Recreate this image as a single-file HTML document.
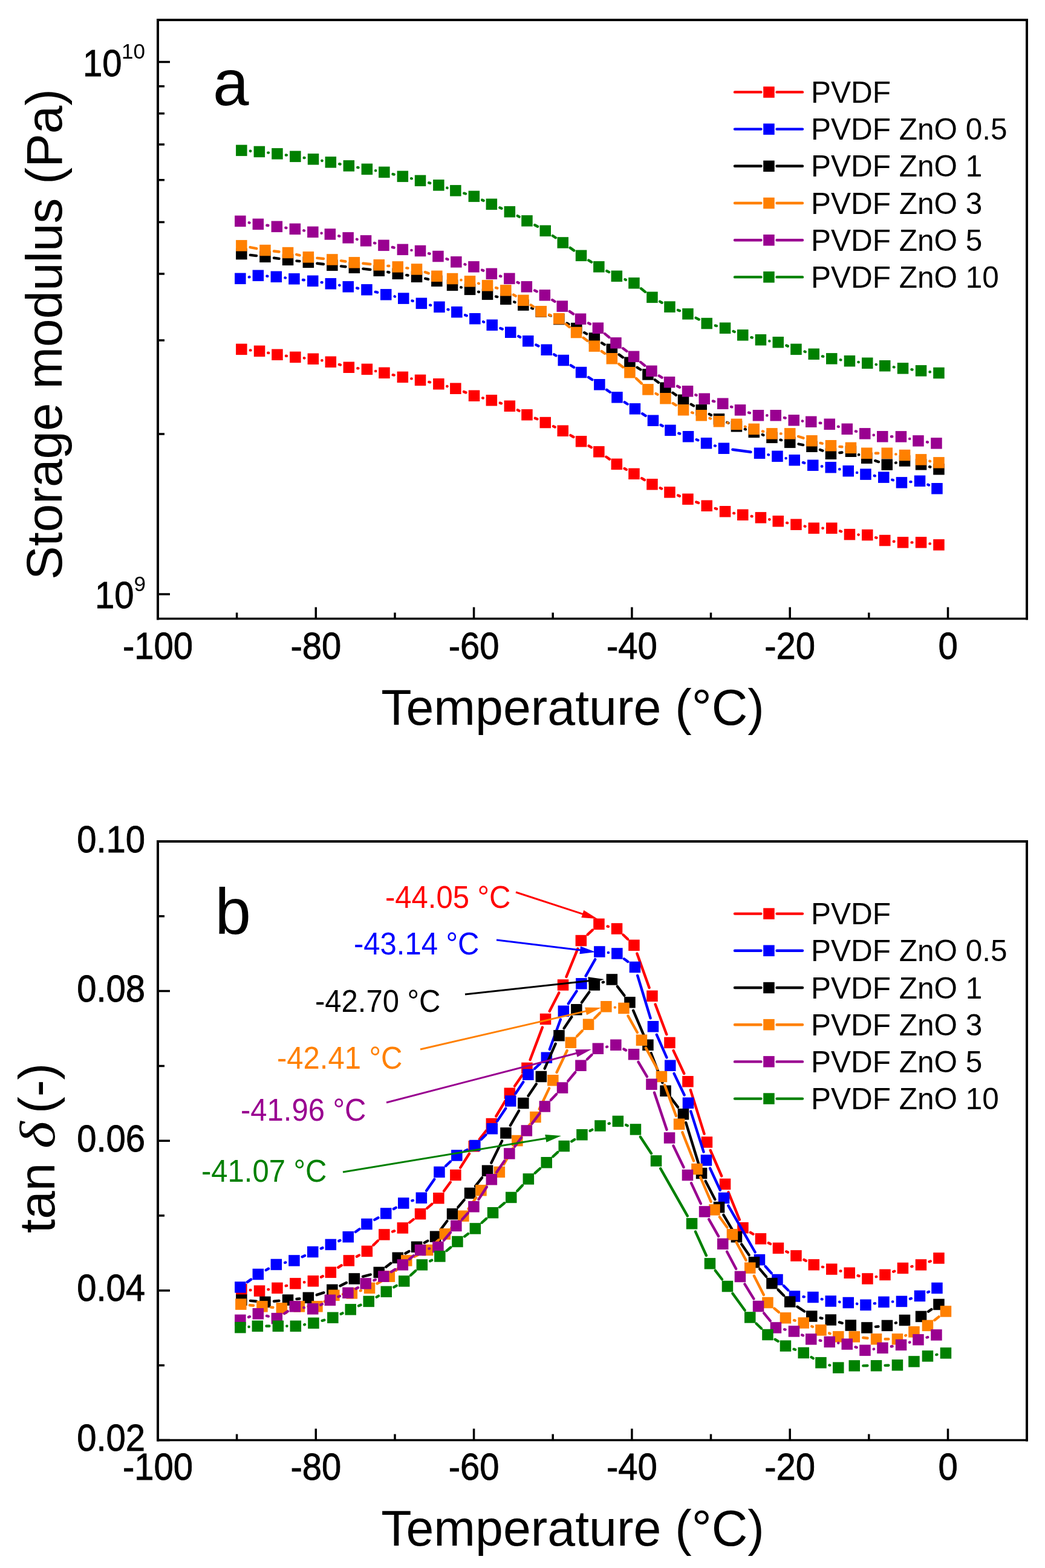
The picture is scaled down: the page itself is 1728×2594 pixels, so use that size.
<!DOCTYPE html>
<html><head><meta charset="utf-8"><title>DMA</title><style>
html,body{margin:0;padding:0;background:#fff;}
svg{display:block;}
text{font-family:"Liberation Sans",Arial,sans-serif;fill:#000;}
.tk{font-size:58px;stroke:#000;stroke-width:0.8px;}
.sup{font-size:35px;}
.ax{font-size:82.5px;}
.ax2{font-size:83.5px;}
.lg{font-size:49.5px;}
.pl{font-size:107px;}
.an{font-size:49px;}
.dl{font-family:"Liberation Serif",serif;font-style:italic;}
</style></head>
<body><svg width="1728" height="2594" viewBox="0 0 1728 2594">
<rect width="1728" height="2594" fill="#fff"/>
<path d="M261.0 983.0H281.0M261.0 717.9H272.0M261.0 562.9H272.0M261.0 452.9H272.0M261.0 367.6H272.0M261.0 297.8H272.0M261.0 238.9H272.0M261.0 187.8H272.0M261.0 142.8H272.0M261.0 102.5H281.0" stroke="#000" stroke-width="3.5"/>
<path d="M261.0 1023.5V1004.5M391.6 1023.5V1013.5M522.3 1023.5V1004.5M653.0 1023.5V1013.5M783.6 1023.5V1004.5M914.2 1023.5V1013.5M1044.9 1023.5V1004.5M1175.5 1023.5V1013.5M1306.2 1023.5V1004.5M1436.8 1023.5V1013.5M1567.5 1023.5V1004.5M1698.1 1023.5V1013.5" stroke="#000" stroke-width="3.5"/><text transform="translate(261.0 1090.0) scale(1 1.08)" class="tk" text-anchor="middle">-100</text><text transform="translate(522.3 1090.0) scale(1 1.08)" class="tk" text-anchor="middle">-80</text><text transform="translate(783.6 1090.0) scale(1 1.08)" class="tk" text-anchor="middle">-60</text><text transform="translate(1044.9 1090.0) scale(1 1.08)" class="tk" text-anchor="middle">-40</text><text transform="translate(1306.2 1090.0) scale(1 1.08)" class="tk" text-anchor="middle">-20</text><text transform="translate(1567.5 1090.0) scale(1 1.08)" class="tk" text-anchor="middle">0</text>
<text transform="translate(201.5 126.3) scale(1 1.08)" class="tk" text-anchor="end">10</text><text x="240" y="96.8" class="sup" text-anchor="end">10</text>
<text transform="translate(221.5 1006.3) scale(1 1.08)" class="tk" text-anchor="end">10</text><text x="241" y="977.8" class="sup" text-anchor="end">9</text>
<text x="947" y="1199" class="ax" text-anchor="middle">Temperature (°C)</text>
<text transform="translate(102 553) rotate(-90)" class="ax2" text-anchor="middle">Storage modulus (Pa)</text>
<text x="352" y="173.5" class="pl">a</text>
<path d="M413.8 579.4L414.5 579.4M443.3 583.8L444.2 583.9M473.0 588.8L473.9 588.9M502.9 592.3L503.4 592.4M532.3 596.3L532.5 596.3M560.9 603.0L562.9 603.6M591.4 609.3L592.4 609.4M621.1 613.9L621.3 613.9M649.7 620.2L651.7 620.6M680.3 626.4L680.6 626.4M709.3 631.9L711.1 632.3M739.3 639.0L739.5 639.1M767.0 648.1L770.4 649.4M798.1 658.4L798.8 658.5M826.8 666.6L829.0 667.3M855.9 678.3L858.5 679.6M884.9 691.9L888.4 693.3M915.0 705.3L917.6 706.5M943.4 720.1L948.4 723.0M973.6 737.6L977.8 740.1M1002.4 755.7L1007.9 759.6M1032.6 775.0L1035.8 776.8M1061.1 791.2L1065.8 794.0M1091.7 807.3L1094.1 808.4M1121.1 819.5L1123.8 820.6M1151.3 830.6L1155.0 831.9M1182.7 841.1L1185.1 841.9M1213.3 848.9L1214.0 849.1M1242.7 854.0L1243.5 854.2M1272.2 859.3L1272.5 859.4M1301.2 864.9L1302.0 865.1M1330.7 870.6L1331.5 870.8M1360.4 873.7L1360.7 873.7M1389.1 878.5L1391.1 879.3M1419.5 884.5L1419.6 884.6M1448.1 889.3L1449.4 889.7M1477.8 895.7L1478.5 895.7M1507.6 897.4L1508.4 897.4M1537.5 899.4L1537.9 899.4" stroke="#ff0000" stroke-width="4.4" stroke-linecap="round" fill="none"/><g fill="#ff0000"><rect x="390.1" y="568.6" width="18.5" height="18.5"/><rect x="419.8" y="571.6" width="18.5" height="18.5"/><rect x="449.2" y="577.5" width="18.5" height="18.5"/><rect x="479.1" y="581.6" width="18.5" height="18.5"/><rect x="508.6" y="584.5" width="18.5" height="18.5"/><rect x="537.6" y="589.5" width="18.5" height="18.5"/><rect x="567.6" y="598.5" width="18.5" height="18.5"/><rect x="597.6" y="601.6" width="18.5" height="18.5"/><rect x="626.2" y="607.6" width="18.5" height="18.5"/><rect x="656.6" y="614.6" width="18.5" height="18.5"/><rect x="685.8" y="619.6" width="18.5" height="18.5"/><rect x="716.1" y="626.0" width="18.5" height="18.5"/><rect x="744.1" y="633.5" width="18.5" height="18.5"/><rect x="774.8" y="645.5" width="18.5" height="18.5"/><rect x="803.6" y="653.0" width="18.5" height="18.5"/><rect x="833.6" y="662.5" width="18.5" height="18.5"/><rect x="862.2" y="677.0" width="18.5" height="18.5"/><rect x="892.5" y="689.8" width="18.5" height="18.5"/><rect x="921.5" y="703.5" width="18.5" height="18.5"/><rect x="951.8" y="721.0" width="18.5" height="18.5"/><rect x="981.1" y="738.1" width="18.5" height="18.5"/><rect x="1010.6" y="758.6" width="18.5" height="18.5"/><rect x="1039.2" y="774.6" width="18.5" height="18.5"/><rect x="1069.2" y="792.0" width="18.5" height="18.5"/><rect x="1098.2" y="805.1" width="18.5" height="18.5"/><rect x="1128.2" y="816.5" width="18.5" height="18.5"/><rect x="1159.5" y="827.5" width="18.5" height="18.5"/><rect x="1189.8" y="837.0" width="18.5" height="18.5"/><rect x="1219.0" y="842.5" width="18.5" height="18.5"/><rect x="1248.7" y="847.1" width="18.5" height="18.5"/><rect x="1277.5" y="853.0" width="18.5" height="18.5"/><rect x="1307.2" y="858.5" width="18.5" height="18.5"/><rect x="1336.5" y="864.5" width="18.5" height="18.5"/><rect x="1366.0" y="864.5" width="18.5" height="18.5"/><rect x="1395.7" y="874.9" width="18.5" height="18.5"/><rect x="1425.0" y="875.8" width="18.5" height="18.5"/><rect x="1454.0" y="884.8" width="18.5" height="18.5"/><rect x="1483.8" y="888.1" width="18.5" height="18.5"/><rect x="1513.8" y="888.1" width="18.5" height="18.5"/><rect x="1543.2" y="892.1" width="18.5" height="18.5"/></g>
<path d="M411.8 458.4L412.5 458.3M441.5 456.8L442.3 456.9M471.4 459.5L472.0 459.6M501.0 463.0L502.8 463.2M531.7 467.1L532.5 467.2M561.3 471.8L561.4 471.9M590.2 476.6L592.1 477.0M620.7 482.9L624.1 483.7M652.6 490.4L653.0 490.6M681.4 497.6L682.8 497.9M711.2 504.7L712.2 504.9M740.5 511.9L741.4 512.2M769.1 521.3L771.7 522.3M799.1 532.3L800.1 532.7M827.4 543.0L830.7 544.4M857.3 556.2L860.2 557.7M886.4 570.5L890.5 572.4M916.1 586.4L919.4 588.3M943.8 604.3L949.0 607.7M973.1 624.1L979.3 628.2M1003.2 644.9L1008.7 648.8M1032.8 665.3L1037.6 668.5M1062.2 684.3L1067.6 687.9M1092.6 703.0L1095.8 704.7M1122.3 716.8L1124.2 717.4M1151.7 727.3L1154.3 728.3M1182.0 737.4L1182.9 737.6M1211.4 743.7L1241.5 747.8M1270.4 752.3L1271.0 752.4M1299.5 758.1L1299.7 758.1M1327.9 765.2L1330.2 765.9M1358.8 771.5L1359.3 771.5M1388.1 776.2L1388.5 776.2M1417.0 781.9L1417.2 781.9M1445.8 787.0L1446.8 787.2M1475.2 793.7L1476.9 794.3M1505.4 797.1L1506.5 797.1M1534.4 801.7L1536.0 802.4" stroke="#0000ff" stroke-width="4.4" stroke-linecap="round" fill="none"/><g fill="#0000ff"><rect x="388.1" y="451.6" width="18.5" height="18.5"/><rect x="417.6" y="446.6" width="18.5" height="18.5"/><rect x="447.6" y="448.6" width="18.5" height="18.5"/><rect x="477.2" y="452.1" width="18.5" height="18.5"/><rect x="508.0" y="455.6" width="18.5" height="18.5"/><rect x="537.6" y="460.1" width="18.5" height="18.5"/><rect x="566.5" y="465.1" width="18.5" height="18.5"/><rect x="597.2" y="470.1" width="18.5" height="18.5"/><rect x="629.0" y="478.1" width="18.5" height="18.5"/><rect x="658.0" y="484.4" width="18.5" height="18.5"/><rect x="687.6" y="492.6" width="18.5" height="18.5"/><rect x="717.2" y="498.6" width="18.5" height="18.5"/><rect x="746.1" y="507.0" width="18.5" height="18.5"/><rect x="776.1" y="518.0" width="18.5" height="18.5"/><rect x="804.5" y="528.5" width="18.5" height="18.5"/><rect x="835.0" y="540.5" width="18.5" height="18.5"/><rect x="864.0" y="555.0" width="18.5" height="18.5"/><rect x="894.5" y="569.5" width="18.5" height="18.5"/><rect x="922.5" y="586.8" width="18.5" height="18.5"/><rect x="951.8" y="606.8" width="18.5" height="18.5"/><rect x="982.1" y="627.0" width="18.5" height="18.5"/><rect x="1011.2" y="648.1" width="18.5" height="18.5"/><rect x="1040.7" y="667.1" width="18.5" height="18.5"/><rect x="1070.7" y="686.5" width="18.5" height="18.5"/><rect x="1099.2" y="702.6" width="18.5" height="18.5"/><rect x="1128.8" y="713.0" width="18.5" height="18.5"/><rect x="1158.8" y="724.0" width="18.5" height="18.5"/><rect x="1187.7" y="732.5" width="18.5" height="18.5"/><rect x="1246.8" y="740.5" width="18.5" height="18.5"/><rect x="1276.2" y="745.6" width="18.5" height="18.5"/><rect x="1304.5" y="752.0" width="18.5" height="18.5"/><rect x="1335.0" y="760.5" width="18.5" height="18.5"/><rect x="1364.5" y="764.0" width="18.5" height="18.5"/><rect x="1393.5" y="770.0" width="18.5" height="18.5"/><rect x="1422.2" y="775.4" width="18.5" height="18.5"/><rect x="1452.0" y="780.4" width="18.5" height="18.5"/><rect x="1481.7" y="789.1" width="18.5" height="18.5"/><rect x="1511.8" y="786.5" width="18.5" height="18.5"/><rect x="1540.2" y="799.0" width="18.5" height="18.5"/></g>
<path d="M413.8 421.9L424.0 423.1M453.0 426.8L461.5 427.9M490.5 431.6L495.4 432.1M524.4 435.7L534.9 437.0M563.9 440.4L571.4 441.2M600.4 444.6L612.3 446.0M641.2 450.1L643.4 450.5M672.2 455.1L674.6 455.5M703.3 460.8L708.1 461.9M762.2 475.3L762.8 475.4M791.1 482.8L791.9 483.0M820.1 490.6L822.3 491.1M850.2 499.5L851.6 500.0M879.1 509.7L881.1 510.5M908.2 521.2L910.9 522.3M937.3 534.7L940.4 536.4M966.2 550.2L970.1 552.4M995.2 567.3L999.6 570.1M1023.6 586.6L1029.8 591.1M1053.7 607.8L1059.3 611.5M1083.1 628.4L1088.8 632.7M1112.5 649.8L1117.9 653.6M1142.8 668.9L1147.0 671.3M1172.8 685.1L1175.9 686.7M1202.4 698.9L1204.4 699.8M1231.8 709.9L1232.9 710.3M1260.8 719.1L1262.4 719.7M1290.5 727.7L1292.1 728.1M1320.5 734.6L1328.1 736.1M1356.0 744.0L1360.3 745.6M1388.4 749.0L1392.4 748.5M1420.0 752.2L1420.2 752.2M1447.2 762.2L1452.9 764.1M1481.1 765.6L1481.7 765.5M1537.1 772.2L1538.3 772.5" stroke="#000000" stroke-width="4.4" stroke-linecap="round" fill="none"/><g fill="#000000"><rect x="390.1" y="410.9" width="18.5" height="18.5"/><rect x="429.2" y="415.6" width="18.5" height="18.5"/><rect x="466.8" y="420.6" width="18.5" height="18.5"/><rect x="500.6" y="424.6" width="18.5" height="18.5"/><rect x="540.1" y="429.6" width="18.5" height="18.5"/><rect x="576.6" y="433.6" width="18.5" height="18.5"/><rect x="617.5" y="438.6" width="18.5" height="18.5"/><rect x="648.5" y="443.6" width="18.5" height="18.5"/><rect x="679.8" y="448.6" width="18.5" height="18.5"/><rect x="713.1" y="455.6" width="18.5" height="18.5"/><rect x="738.8" y="462.6" width="18.5" height="18.5"/><rect x="767.8" y="469.6" width="18.5" height="18.5"/><rect x="796.8" y="477.6" width="18.5" height="18.5"/><rect x="827.1" y="485.6" width="18.5" height="18.5"/><rect x="856.1" y="495.4" width="18.5" height="18.5"/><rect x="885.5" y="506.2" width="18.5" height="18.5"/><rect x="915.0" y="518.8" width="18.5" height="18.5"/><rect x="944.1" y="533.9" width="18.5" height="18.5"/><rect x="973.6" y="550.2" width="18.5" height="18.5"/><rect x="1002.6" y="568.6" width="18.5" height="18.5"/><rect x="1032.2" y="590.5" width="18.5" height="18.5"/><rect x="1062.2" y="610.2" width="18.5" height="18.5"/><rect x="1091.2" y="632.4" width="18.5" height="18.5"/><rect x="1120.8" y="652.5" width="18.5" height="18.5"/><rect x="1150.5" y="669.1" width="18.5" height="18.5"/><rect x="1179.7" y="684.1" width="18.5" height="18.5"/><rect x="1208.7" y="696.0" width="18.5" height="18.5"/><rect x="1237.5" y="705.6" width="18.5" height="18.5"/><rect x="1267.2" y="714.6" width="18.5" height="18.5"/><rect x="1297.0" y="722.6" width="18.5" height="18.5"/><rect x="1333.2" y="729.5" width="18.5" height="18.5"/><rect x="1364.7" y="741.5" width="18.5" height="18.5"/><rect x="1397.7" y="737.5" width="18.5" height="18.5"/><rect x="1424.0" y="748.5" width="18.5" height="18.5"/><rect x="1457.5" y="759.4" width="18.5" height="18.5"/><rect x="1486.8" y="753.2" width="18.5" height="18.5"/><rect x="1513.8" y="759.1" width="18.5" height="18.5"/><rect x="1543.2" y="767.0" width="18.5" height="18.5"/></g>
<path d="M413.6 409.1L424.2 411.2M453.0 415.5L461.5 416.5M490.3 421.1L495.6 422.3M524.4 426.9L534.9 428.0M563.9 431.4L571.4 432.5M600.4 435.8L612.3 437.0M641.3 439.9L643.3 440.0M672.3 443.4L674.5 443.6M702.8 450.2L708.6 452.2M762.4 463.2L762.6 463.2M791.2 468.8L791.8 469.0M820.1 476.1L822.3 476.7M849.1 487.6L852.7 489.7M877.8 504.6L882.4 507.5M908.3 520.7L910.8 521.7M935.7 536.3L941.6 540.9M964.6 558.8L971.3 563.8M994.8 581.1L1000.0 584.8M1023.4 602.2L1030.0 607.3M1052.1 626.2L1060.9 634.4M1084.5 651.1L1087.4 652.6M1112.7 667.2L1117.7 670.3M1144.0 682.4L1145.8 683.0M1173.6 691.9L1175.1 692.5M1203.3 699.5L1203.5 699.6M1232.0 705.8L1232.7 706.0M1261.0 713.5L1262.2 713.8M1291.0 717.4L1291.6 717.4M1320.1 722.0L1328.5 724.7M1356.6 732.9L1359.7 733.7M1388.4 738.9L1392.4 739.3M1447.9 749.8L1452.2 749.8M1481.3 751.4L1481.5 751.4M1537.4 762.8L1538.0 763.0" stroke="#ff8000" stroke-width="4.4" stroke-linecap="round" fill="none"/><g fill="#ff8000"><rect x="390.1" y="397.1" width="18.5" height="18.5"/><rect x="429.2" y="404.8" width="18.5" height="18.5"/><rect x="466.8" y="408.8" width="18.5" height="18.5"/><rect x="500.6" y="416.1" width="18.5" height="18.5"/><rect x="540.1" y="420.2" width="18.5" height="18.5"/><rect x="576.6" y="425.1" width="18.5" height="18.5"/><rect x="617.5" y="429.1" width="18.5" height="18.5"/><rect x="648.5" y="432.2" width="18.5" height="18.5"/><rect x="679.8" y="436.2" width="18.5" height="18.5"/><rect x="713.1" y="447.6" width="18.5" height="18.5"/><rect x="738.8" y="451.8" width="18.5" height="18.5"/><rect x="767.8" y="456.1" width="18.5" height="18.5"/><rect x="796.8" y="463.1" width="18.5" height="18.5"/><rect x="827.1" y="471.1" width="18.5" height="18.5"/><rect x="856.1" y="487.6" width="18.5" height="18.5"/><rect x="885.5" y="506.0" width="18.5" height="18.5"/><rect x="915.0" y="518.0" width="18.5" height="18.5"/><rect x="943.8" y="540.8" width="18.5" height="18.5"/><rect x="973.6" y="563.4" width="18.5" height="18.5"/><rect x="1002.6" y="584.0" width="18.5" height="18.5"/><rect x="1032.2" y="607.0" width="18.5" height="18.5"/><rect x="1062.2" y="635.1" width="18.5" height="18.5"/><rect x="1091.2" y="650.0" width="18.5" height="18.5"/><rect x="1120.8" y="669.0" width="18.5" height="18.5"/><rect x="1150.5" y="678.0" width="18.5" height="18.5"/><rect x="1179.7" y="688.0" width="18.5" height="18.5"/><rect x="1208.7" y="692.6" width="18.5" height="18.5"/><rect x="1237.5" y="700.6" width="18.5" height="18.5"/><rect x="1267.2" y="708.1" width="18.5" height="18.5"/><rect x="1297.0" y="708.1" width="18.5" height="18.5"/><rect x="1333.2" y="720.0" width="18.5" height="18.5"/><rect x="1364.7" y="728.0" width="18.5" height="18.5"/><rect x="1397.7" y="731.6" width="18.5" height="18.5"/><rect x="1424.0" y="740.5" width="18.5" height="18.5"/><rect x="1457.5" y="740.5" width="18.5" height="18.5"/><rect x="1486.8" y="743.8" width="18.5" height="18.5"/><rect x="1513.8" y="751.1" width="18.5" height="18.5"/><rect x="1543.2" y="756.1" width="18.5" height="18.5"/></g>
<path d="M411.8 368.3L412.5 368.5M441.4 372.8L443.4 373.0M472.4 376.8L473.4 377.0M502.3 381.3L503.0 381.5M531.6 385.7L531.7 385.7M560.2 390.3L561.3 390.6M590.0 395.8L590.6 396.0M619.1 402.0L620.4 402.3M648.8 409.0L651.6 409.7M680.4 413.9L680.5 413.9M709.0 419.3L710.5 419.7M738.4 428.3L740.5 429.0M768.5 437.2L769.4 437.5M797.1 446.7L799.3 447.6M827.0 456.7L828.3 457.1M855.6 467.1L857.7 468.1M884.1 480.5L887.7 482.2M913.2 496.2L917.5 498.9M941.8 515.1L948.0 519.4M973.0 534.5L975.9 536.0M1000.1 552.1L1007.3 558.0M1030.1 576.3L1036.4 581.0M1059.3 599.1L1066.1 604.7M1089.8 621.6L1094.6 624.6M1120.1 638.8L1123.9 640.8M1150.3 653.3L1151.5 653.8M1178.9 663.5L1181.2 664.1M1209.0 672.9L1210.3 673.3M1238.0 682.6L1239.9 683.1M1268.2 687.3L1268.5 687.3M1296.9 691.1L1298.7 691.5M1326.9 696.5L1327.1 696.6M1355.7 699.7L1357.3 699.9M1385.9 705.7L1386.7 705.9M1414.9 713.5L1416.1 713.7M1444.6 719.8L1444.9 719.8M1473.9 722.3L1475.3 722.3M1504.1 725.9L1504.3 725.9M1533.0 731.3L1533.9 731.5" stroke="#990090" stroke-width="4.4" stroke-linecap="round" fill="none"/><g fill="#990090"><rect x="388.1" y="356.6" width="18.5" height="18.5"/><rect x="417.6" y="361.6" width="18.5" height="18.5"/><rect x="448.6" y="365.6" width="18.5" height="18.5"/><rect x="478.6" y="369.6" width="18.5" height="18.5"/><rect x="508.1" y="374.6" width="18.5" height="18.5"/><rect x="536.6" y="378.2" width="18.5" height="18.5"/><rect x="566.4" y="384.1" width="18.5" height="18.5"/><rect x="595.8" y="389.1" width="18.5" height="18.5"/><rect x="625.2" y="396.6" width="18.5" height="18.5"/><rect x="656.6" y="403.6" width="18.5" height="18.5"/><rect x="685.8" y="405.8" width="18.5" height="18.5"/><rect x="715.2" y="414.8" width="18.5" height="18.5"/><rect x="745.1" y="424.1" width="18.5" height="18.5"/><rect x="774.2" y="432.1" width="18.5" height="18.5"/><rect x="803.6" y="443.6" width="18.5" height="18.5"/><rect x="833.1" y="451.6" width="18.5" height="18.5"/><rect x="861.6" y="465.1" width="18.5" height="18.5"/><rect x="891.6" y="479.1" width="18.5" height="18.5"/><rect x="920.5" y="497.4" width="18.5" height="18.5"/><rect x="950.8" y="518.5" width="18.5" height="18.5"/><rect x="979.6" y="533.5" width="18.5" height="18.5"/><rect x="1009.2" y="558.1" width="18.5" height="18.5"/><rect x="1038.8" y="580.6" width="18.5" height="18.5"/><rect x="1068.2" y="604.6" width="18.5" height="18.5"/><rect x="1097.8" y="623.0" width="18.5" height="18.5"/><rect x="1127.8" y="638.0" width="18.5" height="18.5"/><rect x="1155.5" y="650.5" width="18.5" height="18.5"/><rect x="1186.0" y="658.5" width="18.5" height="18.5"/><rect x="1214.8" y="669.1" width="18.5" height="18.5"/><rect x="1244.7" y="678.0" width="18.5" height="18.5"/><rect x="1273.5" y="678.0" width="18.5" height="18.5"/><rect x="1303.5" y="686.0" width="18.5" height="18.5"/><rect x="1332.0" y="688.5" width="18.5" height="18.5"/><rect x="1362.5" y="692.5" width="18.5" height="18.5"/><rect x="1391.5" y="700.5" width="18.5" height="18.5"/><rect x="1421.0" y="708.1" width="18.5" height="18.5"/><rect x="1450.0" y="713.0" width="18.5" height="18.5"/><rect x="1480.7" y="713.1" width="18.5" height="18.5"/><rect x="1509.2" y="720.1" width="18.5" height="18.5"/><rect x="1539.2" y="724.1" width="18.5" height="18.5"/></g>
<path d="M413.9 249.8L414.2 249.9M443.3 252.6L444.0 252.6M472.9 256.5L473.9 256.6M502.7 261.0L503.6 261.1M532.4 265.8L532.5 265.9M561.2 271.3L562.6 271.5M591.3 277.0L592.5 277.2M621.1 282.3L621.2 282.3M649.6 288.1L651.7 288.6M680.1 295.3L680.8 295.4M709.2 302.3L711.2 302.9M739.3 310.8L739.5 310.9M767.3 319.7L770.0 320.5M797.2 330.9L799.6 331.9M826.4 343.5L829.4 344.8M855.8 357.1L858.6 358.6M884.3 372.3L889.0 374.8M913.9 390.0L918.7 393.3M942.7 409.9L949.1 414.4M973.3 430.6L978.1 433.6M1003.3 448.2L1007.0 450.1M1033.5 462.3L1034.9 462.9M1060.0 477.3L1066.9 482.9M1091.2 498.9L1094.6 500.7M1121.0 513.0L1123.9 514.1M1150.6 525.9L1155.7 528.5M1182.9 538.6L1184.9 539.1M1212.6 548.1L1214.7 549.0M1242.4 558.2L1243.8 558.5M1272.3 564.3L1272.4 564.3M1300.4 571.6L1302.8 572.6M1330.5 581.6L1331.7 582.0M1359.9 589.4L1361.2 589.7M1389.8 595.3L1390.4 595.4M1419.4 599.0L1419.7 599.1M1448.6 603.0L1448.9 603.1M1477.8 607.3L1478.5 607.4M1507.5 611.3L1508.5 611.5M1537.5 615.2L1537.9 615.2" stroke="#008000" stroke-width="4.4" stroke-linecap="round" fill="none"/><g fill="#008000"><rect x="390.1" y="239.6" width="18.5" height="18.5"/><rect x="419.6" y="241.7" width="18.5" height="18.5"/><rect x="449.2" y="245.1" width="18.5" height="18.5"/><rect x="479.1" y="249.6" width="18.5" height="18.5"/><rect x="508.8" y="254.1" width="18.5" height="18.5"/><rect x="537.6" y="259.1" width="18.5" height="18.5"/><rect x="567.6" y="265.1" width="18.5" height="18.5"/><rect x="597.6" y="270.6" width="18.5" height="18.5"/><rect x="626.1" y="275.6" width="18.5" height="18.5"/><rect x="656.6" y="282.6" width="18.5" height="18.5"/><rect x="685.8" y="289.6" width="18.5" height="18.5"/><rect x="716.1" y="297.1" width="18.5" height="18.5"/><rect x="744.1" y="306.1" width="18.5" height="18.5"/><rect x="774.6" y="315.6" width="18.5" height="18.5"/><rect x="803.6" y="328.6" width="18.5" height="18.5"/><rect x="833.6" y="341.1" width="18.5" height="18.5"/><rect x="862.2" y="356.1" width="18.5" height="18.5"/><rect x="892.5" y="372.6" width="18.5" height="18.5"/><rect x="921.5" y="392.2" width="18.5" height="18.5"/><rect x="951.8" y="413.6" width="18.5" height="18.5"/><rect x="981.1" y="432.1" width="18.5" height="18.5"/><rect x="1010.6" y="447.6" width="18.5" height="18.5"/><rect x="1039.2" y="459.1" width="18.5" height="18.5"/><rect x="1069.2" y="482.6" width="18.5" height="18.5"/><rect x="1098.2" y="498.4" width="18.5" height="18.5"/><rect x="1128.2" y="510.1" width="18.5" height="18.5"/><rect x="1159.5" y="525.8" width="18.5" height="18.5"/><rect x="1189.8" y="533.5" width="18.5" height="18.5"/><rect x="1219.0" y="545.1" width="18.5" height="18.5"/><rect x="1248.7" y="553.0" width="18.5" height="18.5"/><rect x="1277.5" y="557.0" width="18.5" height="18.5"/><rect x="1307.2" y="568.6" width="18.5" height="18.5"/><rect x="1336.5" y="576.5" width="18.5" height="18.5"/><rect x="1366.0" y="584.1" width="18.5" height="18.5"/><rect x="1395.7" y="588.0" width="18.5" height="18.5"/><rect x="1425.0" y="591.5" width="18.5" height="18.5"/><rect x="1454.0" y="596.0" width="18.5" height="18.5"/><rect x="1483.8" y="600.1" width="18.5" height="18.5"/><rect x="1513.8" y="604.1" width="18.5" height="18.5"/><rect x="1543.2" y="607.8" width="18.5" height="18.5"/></g>
<path d="M1215.0 152.4H1258.5M1284.5 152.4H1327.0" stroke="#ff0000" stroke-width="4.4" stroke-linecap="round"/><rect x="1262.2" y="143.2" width="18.5" height="18.5" fill="#ff0000"/><text x="1341.0" y="169.9" class="lg">PVDF</text><path d="M1215.0 213.6H1258.5M1284.5 213.6H1327.0" stroke="#0000ff" stroke-width="4.4" stroke-linecap="round"/><rect x="1262.2" y="204.4" width="18.5" height="18.5" fill="#0000ff"/><text x="1341.0" y="231.1" class="lg">PVDF ZnO 0.5</text><path d="M1215.0 274.8H1258.5M1284.5 274.8H1327.0" stroke="#000000" stroke-width="4.4" stroke-linecap="round"/><rect x="1262.2" y="265.6" width="18.5" height="18.5" fill="#000000"/><text x="1341.0" y="292.3" class="lg">PVDF ZnO 1</text><path d="M1215.0 336.0H1258.5M1284.5 336.0H1327.0" stroke="#ff8000" stroke-width="4.4" stroke-linecap="round"/><rect x="1262.2" y="326.8" width="18.5" height="18.5" fill="#ff8000"/><text x="1341.0" y="353.5" class="lg">PVDF ZnO 3</text><path d="M1215.0 397.2H1258.5M1284.5 397.2H1327.0" stroke="#990090" stroke-width="4.4" stroke-linecap="round"/><rect x="1262.2" y="388.0" width="18.5" height="18.5" fill="#990090"/><text x="1341.0" y="414.7" class="lg">PVDF ZnO 5</text><path d="M1215.0 458.4H1258.5M1284.5 458.4H1327.0" stroke="#008000" stroke-width="4.4" stroke-linecap="round"/><rect x="1262.2" y="449.1" width="18.5" height="18.5" fill="#008000"/><text x="1341.0" y="475.9" class="lg">PVDF ZnO 10</text>
<path d="M261.0 33.0V1023.5M261.0 33.0H1698.0M1698.0 33.0V1023.5" stroke="#000" stroke-width="4" fill="none" stroke-linecap="square"/><path d="M261.0 1023.5H1698.0" stroke="#000" stroke-width="3.4" fill="none" stroke-linecap="square"/>
<path d="M261.0 2382.5H281.0M261.0 2258.7H272.0M261.0 2134.9H281.0M261.0 2011.1H272.0M261.0 1887.2H281.0M261.0 1763.4H272.0M261.0 1639.6H281.0M261.0 1515.8H272.0M261.0 1392.0H281.0" stroke="#000" stroke-width="3.5"/>
<text transform="translate(240 2400.0) scale(1 1.09)" class="tk" text-anchor="end">0.02</text>
<text transform="translate(240 2152.4) scale(1 1.09)" class="tk" text-anchor="end">0.04</text>
<text transform="translate(240 1904.8) scale(1 1.09)" class="tk" text-anchor="end">0.06</text>
<text transform="translate(240 1657.1) scale(1 1.09)" class="tk" text-anchor="end">0.08</text>
<text transform="translate(240 1409.5) scale(1 1.09)" class="tk" text-anchor="end">0.10</text>
<path d="M261.0 2382.5V2363.5M391.6 2382.5V2372.5M522.3 2382.5V2363.5M653.0 2382.5V2372.5M783.6 2382.5V2363.5M914.2 2382.5V2372.5M1044.9 2382.5V2363.5M1175.5 2382.5V2372.5M1306.2 2382.5V2363.5M1436.8 2382.5V2372.5M1567.5 2382.5V2363.5M1698.1 2382.5V2372.5" stroke="#000" stroke-width="3.5"/><text transform="translate(261.0 2448.0) scale(1 1.08)" class="tk" text-anchor="middle">-100</text><text transform="translate(522.3 2448.0) scale(1 1.08)" class="tk" text-anchor="middle">-80</text><text transform="translate(783.6 2448.0) scale(1 1.08)" class="tk" text-anchor="middle">-60</text><text transform="translate(1044.9 2448.0) scale(1 1.08)" class="tk" text-anchor="middle">-40</text><text transform="translate(1306.2 2448.0) scale(1 1.08)" class="tk" text-anchor="middle">-20</text><text transform="translate(1567.5 2448.0) scale(1 1.08)" class="tk" text-anchor="middle">0</text>
<text x="947" y="2557" class="ax" text-anchor="middle">Temperature (°C)</text>
<g transform="translate(90 2040) rotate(-90)"><text x="0" y="0" class="ax2">tan</text><text transform="translate(140.0 0) scale(1.150 1)" class="ax2 dl">δ</text><text x="198.0" y="0" class="ax2">(-)</text></g>
<text x="355.5" y="1544.5" class="pl">b</text>
<path d="M413.8 2134.3L414.5 2134.3M443.4 2133.3L444.1 2133.2M472.7 2127.2L474.2 2126.9M502.9 2121.3L503.4 2121.3M531.0 2112.8L533.8 2111.3M559.2 2096.9L564.6 2093.3M589.9 2078.7L593.9 2076.6M617.4 2059.8L624.9 2052.5M649.1 2037.5L652.2 2036.4M677.3 2022.4L683.6 2017.4M706.1 1998.8L714.3 1991.8M734.0 1970.5L744.8 1955.7M761.3 1931.6L776.0 1908.5M792.9 1884.7L803.9 1870.5M820.4 1846.5L835.4 1821.3M851.1 1796.7L863.3 1779.0M876.6 1753.2L896.9 1699.6M908.7 1672.9L924.3 1642.4M936.5 1615.9L955.4 1569.5M971.7 1546.1L979.7 1538.7M1004.6 1532.4L1005.9 1532.8M1030.5 1546.5L1038.0 1553.7M1053.4 1577.5L1073.6 1634.1M1083.6 1661.5L1102.3 1711.2M1113.6 1738.1L1131.2 1776.0M1141.8 1803.1L1164.5 1875.7M1174.7 1903.0L1193.2 1945.5M1204.5 1972.4L1222.9 2017.8M1240.9 2038.9L1245.4 2041.7M1270.8 2056.2L1274.0 2057.9M1300.3 2070.5L1303.0 2071.7M1329.4 2084.0L1332.8 2085.7M1360.0 2095.9L1361.1 2096.1M1389.6 2102.7L1390.4 2102.8M1418.6 2110.3L1420.6 2110.9M1448.7 2112.2L1449.3 2112.1M1477.2 2103.8L1479.2 2103.0M1507.3 2095.3L1508.5 2095.0M1536.6 2087.3L1538.7 2086.5" stroke="#ff0000" stroke-width="4.4" stroke-linecap="round" fill="none"/><g fill="#ff0000"><rect x="390.1" y="2123.7" width="18.5" height="18.5"/><rect x="419.8" y="2126.4" width="18.5" height="18.5"/><rect x="449.2" y="2121.6" width="18.5" height="18.5"/><rect x="479.1" y="2114.1" width="18.5" height="18.5"/><rect x="508.6" y="2110.1" width="18.5" height="18.5"/><rect x="537.6" y="2095.6" width="18.5" height="18.5"/><rect x="567.6" y="2076.2" width="18.5" height="18.5"/><rect x="597.6" y="2060.7" width="18.5" height="18.5"/><rect x="626.1" y="2033.2" width="18.5" height="18.5"/><rect x="656.6" y="2022.2" width="18.5" height="18.5"/><rect x="685.8" y="1999.0" width="18.5" height="18.5"/><rect x="716.1" y="1973.0" width="18.5" height="18.5"/><rect x="744.1" y="1934.7" width="18.5" height="18.5"/><rect x="774.6" y="1887.0" width="18.5" height="18.5"/><rect x="803.6" y="1849.8" width="18.5" height="18.5"/><rect x="833.6" y="1799.5" width="18.5" height="18.5"/><rect x="862.2" y="1757.7" width="18.5" height="18.5"/><rect x="892.8" y="1676.7" width="18.5" height="18.5"/><rect x="921.8" y="1620.2" width="18.5" height="18.5"/><rect x="951.6" y="1546.8" width="18.5" height="18.5"/><rect x="981.2" y="1519.5" width="18.5" height="18.5"/><rect x="1010.8" y="1527.2" width="18.5" height="18.5"/><rect x="1039.2" y="1554.5" width="18.5" height="18.5"/><rect x="1069.2" y="1638.5" width="18.5" height="18.5"/><rect x="1098.2" y="1715.7" width="18.5" height="18.5"/><rect x="1128.2" y="1780.0" width="18.5" height="18.5"/><rect x="1159.7" y="1880.3" width="18.5" height="18.5"/><rect x="1189.8" y="1949.7" width="18.5" height="18.5"/><rect x="1219.2" y="2022.0" width="18.5" height="18.5"/><rect x="1248.7" y="2040.1" width="18.5" height="18.5"/><rect x="1277.7" y="2055.6" width="18.5" height="18.5"/><rect x="1307.2" y="2068.2" width="18.5" height="18.5"/><rect x="1336.5" y="2083.1" width="18.5" height="18.5"/><rect x="1366.0" y="2090.4" width="18.5" height="18.5"/><rect x="1395.5" y="2096.6" width="18.5" height="18.5"/><rect x="1425.2" y="2106.2" width="18.5" height="18.5"/><rect x="1454.2" y="2099.7" width="18.5" height="18.5"/><rect x="1483.7" y="2088.7" width="18.5" height="18.5"/><rect x="1513.7" y="2083.2" width="18.5" height="18.5"/><rect x="1543.2" y="2072.2" width="18.5" height="18.5"/></g>
<path d="M409.1 2120.9L415.1 2116.6M439.8 2101.1L444.0 2098.8M471.2 2088.8L472.2 2088.5M499.7 2079.2L504.1 2077.2M530.8 2065.5L533.4 2064.4M560.3 2053.1L562.4 2052.1M587.8 2038.0L594.5 2033.3M619.3 2017.9L625.5 2014.5M650.9 2000.0L654.7 1997.8M681.3 1986.3L682.9 1985.9M705.2 1969.8L718.2 1950.9M737.1 1928.8L744.8 1921.5M768.2 1904.4L772.6 1902.1M795.8 1884.9L803.4 1877.5M821.9 1855.1L836.2 1833.7M852.4 1809.3L865.3 1790.0M884.2 1767.9L893.1 1759.7M908.9 1736.1L926.9 1686.5M939.8 1660.5L953.5 1639.6M968.6 1614.6L984.2 1587.1M1005.8 1575.9L1006.0 1575.9M1032.0 1586.3L1038.3 1591.0M1054.2 1613.9L1075.6 1684.3M1085.8 1711.7L1102.4 1749.4M1114.6 1776.0L1131.6 1811.5M1142.3 1838.6L1163.5 1905.6M1174.1 1932.7L1190.8 1968.7M1204.3 1994.6L1248.6 2071.5M1265.6 2095.1L1275.7 2106.2M1295.9 2127.2L1303.4 2134.5M1328.5 2145.3L1329.8 2145.4M1358.7 2149.3L1359.5 2149.4M1388.2 2153.8L1388.4 2153.9M1417.0 2156.9L1417.2 2157.0M1445.8 2156.4L1447.0 2156.3M1476.0 2153.4L1476.3 2153.4M1504.9 2148.7L1506.9 2148.1M1534.2 2137.8L1536.1 2137.0" stroke="#0000ff" stroke-width="4.4" stroke-linecap="round" fill="none"/><g fill="#0000ff"><rect x="388.1" y="2120.2" width="18.5" height="18.5"/><rect x="417.6" y="2098.8" width="18.5" height="18.5"/><rect x="447.6" y="2082.7" width="18.5" height="18.5"/><rect x="477.2" y="2076.2" width="18.5" height="18.5"/><rect x="508.0" y="2061.8" width="18.5" height="18.5"/><rect x="537.6" y="2049.7" width="18.5" height="18.5"/><rect x="566.5" y="2037.0" width="18.5" height="18.5"/><rect x="597.2" y="2015.8" width="18.5" height="18.5"/><rect x="629.0" y="1998.2" width="18.5" height="18.5"/><rect x="658.0" y="1981.2" width="18.5" height="18.5"/><rect x="687.6" y="1972.5" width="18.5" height="18.5"/><rect x="717.2" y="1929.7" width="18.5" height="18.5"/><rect x="746.1" y="1902.2" width="18.5" height="18.5"/><rect x="776.1" y="1885.8" width="18.5" height="18.5"/><rect x="804.5" y="1858.0" width="18.5" height="18.5"/><rect x="835.0" y="1812.2" width="18.5" height="18.5"/><rect x="864.1" y="1768.5" width="18.5" height="18.5"/><rect x="894.6" y="1740.5" width="18.5" height="18.5"/><rect x="922.6" y="1663.5" width="18.5" height="18.5"/><rect x="952.1" y="1618.0" width="18.5" height="18.5"/><rect x="982.1" y="1565.2" width="18.5" height="18.5"/><rect x="1011.1" y="1568.2" width="18.5" height="18.5"/><rect x="1040.7" y="1590.7" width="18.5" height="18.5"/><rect x="1070.7" y="1689.0" width="18.5" height="18.5"/><rect x="1099.0" y="1753.5" width="18.5" height="18.5"/><rect x="1128.7" y="1815.5" width="18.5" height="18.5"/><rect x="1158.7" y="1910.2" width="18.5" height="18.5"/><rect x="1187.8" y="1972.7" width="18.5" height="18.5"/><rect x="1246.7" y="2074.9" width="18.5" height="18.5"/><rect x="1276.2" y="2107.8" width="18.5" height="18.5"/><rect x="1304.7" y="2135.3" width="18.5" height="18.5"/><rect x="1335.2" y="2136.8" width="18.5" height="18.5"/><rect x="1364.5" y="2143.3" width="18.5" height="18.5"/><rect x="1393.5" y="2145.8" width="18.5" height="18.5"/><rect x="1422.2" y="2149.6" width="18.5" height="18.5"/><rect x="1452.2" y="2144.7" width="18.5" height="18.5"/><rect x="1481.7" y="2143.7" width="18.5" height="18.5"/><rect x="1511.7" y="2134.7" width="18.5" height="18.5"/><rect x="1540.2" y="2121.7" width="18.5" height="18.5"/></g>
<path d="M413.9 2151.9L423.9 2152.7M453.0 2152.7L461.5 2151.9M490.5 2149.0L495.4 2148.5M523.8 2142.2L535.5 2138.4M562.5 2127.3L572.8 2122.0M600.0 2111.8L612.7 2108.6M638.3 2095.9L646.3 2089.8M670.4 2073.5L676.4 2070.1M701.8 2055.8L707.2 2052.8M728.7 2034.1L739.3 2020.0M757.4 1997.1L767.6 1985.1M786.0 1962.4L797.0 1948.3M812.4 1923.7L830.1 1887.6M843.9 1861.9L858.0 1837.6M873.5 1812.9L886.8 1793.2M900.7 1767.7L918.7 1726.7M932.6 1701.2L945.3 1682.3M962.0 1658.4L974.3 1641.2M996.8 1625.1L998.0 1624.7M1020.9 1631.9L1032.4 1646.8M1047.1 1671.7L1065.7 1715.3M1076.6 1742.3L1095.4 1791.2M1109.5 1816.4L1121.0 1831.6M1134.2 1857.2L1155.7 1927.0M1166.7 1954.0L1182.3 1984.3M1196.4 2009.9L1210.5 2033.7M1226.2 2058.3L1238.6 2076.3M1256.3 2099.4L1267.1 2112.1M1286.7 2133.6L1296.1 2143.2M1318.4 2161.7L1330.2 2169.5M1356.6 2180.3L1359.5 2180.9M1387.9 2187.4L1392.7 2188.8M1448.0 2194.9L1452.4 2194.5M1480.9 2188.6L1481.9 2188.3M1535.1 2169.7L1540.3 2166.1" stroke="#000000" stroke-width="4.4" stroke-linecap="round" fill="none"/><g fill="#000000"><rect x="390.1" y="2141.4" width="18.5" height="18.5"/><rect x="429.2" y="2144.7" width="18.5" height="18.5"/><rect x="466.8" y="2141.4" width="18.5" height="18.5"/><rect x="500.6" y="2137.6" width="18.5" height="18.5"/><rect x="540.1" y="2124.6" width="18.5" height="18.5"/><rect x="576.6" y="2106.2" width="18.5" height="18.5"/><rect x="617.5" y="2095.7" width="18.5" height="18.5"/><rect x="648.5" y="2071.6" width="18.5" height="18.5"/><rect x="679.8" y="2053.6" width="18.5" height="18.5"/><rect x="710.8" y="2036.5" width="18.5" height="18.5"/><rect x="738.8" y="1999.0" width="18.5" height="18.5"/><rect x="767.8" y="1964.7" width="18.5" height="18.5"/><rect x="796.8" y="1927.5" width="18.5" height="18.5"/><rect x="827.2" y="1865.2" width="18.5" height="18.5"/><rect x="856.1" y="1815.8" width="18.5" height="18.5"/><rect x="885.6" y="1771.8" width="18.5" height="18.5"/><rect x="915.2" y="1704.0" width="18.5" height="18.5"/><rect x="944.1" y="1661.0" width="18.5" height="18.5"/><rect x="973.6" y="1620.2" width="18.5" height="18.5"/><rect x="1002.6" y="1611.2" width="18.5" height="18.5"/><rect x="1032.2" y="1649.0" width="18.5" height="18.5"/><rect x="1062.2" y="1719.5" width="18.5" height="18.5"/><rect x="1091.3" y="1795.5" width="18.5" height="18.5"/><rect x="1120.7" y="1834.0" width="18.5" height="18.5"/><rect x="1150.8" y="1931.8" width="18.5" height="18.5"/><rect x="1179.8" y="1988.0" width="18.5" height="18.5"/><rect x="1208.7" y="2037.0" width="18.5" height="18.5"/><rect x="1237.7" y="2079.1" width="18.5" height="18.5"/><rect x="1267.2" y="2113.9" width="18.5" height="18.5"/><rect x="1297.0" y="2144.3" width="18.5" height="18.5"/><rect x="1333.0" y="2168.3" width="18.5" height="18.5"/><rect x="1364.5" y="2174.3" width="18.5" height="18.5"/><rect x="1397.5" y="2183.3" width="18.5" height="18.5"/><rect x="1424.2" y="2187.2" width="18.5" height="18.5"/><rect x="1457.7" y="2183.7" width="18.5" height="18.5"/><rect x="1486.7" y="2174.8" width="18.5" height="18.5"/><rect x="1513.8" y="2168.7" width="18.5" height="18.5"/><rect x="1543.2" y="2148.7" width="18.5" height="18.5"/></g>
<path d="M412.9 2159.2L419.0 2159.8M448.0 2162.6L451.4 2163.0M480.3 2162.8L480.4 2162.8M509.4 2161.3L509.9 2161.3M536.7 2153.2L540.2 2150.9M566.9 2141.1L567.4 2141.1M595.9 2135.3L597.0 2134.9M623.6 2123.5L631.3 2119.0M654.6 2101.8L661.6 2095.3M685.4 2078.9L694.0 2074.5M717.8 2058.1L725.2 2051.3M746.4 2031.2L755.9 2022.0M774.6 1999.8L787.3 1981.3M805.8 1959.0L815.6 1949.2M833.1 1926.2L848.2 1899.7M864.3 1875.4L876.6 1859.6M891.8 1834.8L908.1 1800.4M920.6 1774.0L937.7 1738.0M954.1 1714.3L962.8 1705.3M983.3 1684.5L992.1 1675.6M1016.8 1666.6L1017.0 1666.6M1038.5 1680.7L1053.8 1708.0M1067.9 1733.6L1086.9 1768.3M1099.0 1794.8L1117.9 1846.1M1128.4 1873.4L1147.0 1920.4M1158.2 1947.4L1175.6 1988.0M1189.9 2013.2L1202.4 2030.5M1217.7 2055.2L1233.5 2084.8M1246.9 2110.7L1262.8 2142.1M1280.5 2164.6L1287.8 2170.8M1313.0 2184.2L1314.7 2184.7M1342.3 2194.2L1343.9 2194.9M1371.1 2205.6L1372.6 2206.2M1427.3 2213.0L1434.5 2213.8M1463.6 2215.3L1469.3 2215.3M1497.3 2209.5L1498.0 2209.1M1545.4 2183.9L1552.4 2178.4" stroke="#ff8000" stroke-width="4.4" stroke-linecap="round" fill="none"/><g fill="#ff8000"><rect x="389.1" y="2148.4" width="18.5" height="18.5"/><rect x="424.2" y="2152.1" width="18.5" height="18.5"/><rect x="456.6" y="2155.1" width="18.5" height="18.5"/><rect x="485.6" y="2152.1" width="18.5" height="18.5"/><rect x="515.2" y="2152.1" width="18.5" height="18.5"/><rect x="543.1" y="2133.6" width="18.5" height="18.5"/><rect x="572.6" y="2130.2" width="18.5" height="18.5"/><rect x="601.8" y="2121.6" width="18.5" height="18.5"/><rect x="634.6" y="2102.4" width="18.5" height="18.5"/><rect x="663.0" y="2076.2" width="18.5" height="18.5"/><rect x="697.9" y="2058.8" width="18.5" height="18.5"/><rect x="726.6" y="2032.2" width="18.5" height="18.5"/><rect x="757.1" y="2002.5" width="18.5" height="18.5"/><rect x="786.2" y="1960.0" width="18.5" height="18.5"/><rect x="816.6" y="1929.7" width="18.5" height="18.5"/><rect x="846.1" y="1877.8" width="18.5" height="18.5"/><rect x="876.2" y="1838.8" width="18.5" height="18.5"/><rect x="905.1" y="1778.0" width="18.5" height="18.5"/><rect x="934.6" y="1715.5" width="18.5" height="18.5"/><rect x="963.8" y="1685.5" width="18.5" height="18.5"/><rect x="993.1" y="1656.0" width="18.5" height="18.5"/><rect x="1022.2" y="1658.7" width="18.5" height="18.5"/><rect x="1051.7" y="1711.5" width="18.5" height="18.5"/><rect x="1084.7" y="1771.8" width="18.5" height="18.5"/><rect x="1113.8" y="1850.5" width="18.5" height="18.5"/><rect x="1143.2" y="1924.8" width="18.5" height="18.5"/><rect x="1172.2" y="1992.2" width="18.5" height="18.5"/><rect x="1201.7" y="2033.0" width="18.5" height="18.5"/><rect x="1231.0" y="2088.4" width="18.5" height="18.5"/><rect x="1260.2" y="2145.8" width="18.5" height="18.5"/><rect x="1289.7" y="2171.1" width="18.5" height="18.5"/><rect x="1319.5" y="2179.3" width="18.5" height="18.5"/><rect x="1348.2" y="2191.2" width="18.5" height="18.5"/><rect x="1377.0" y="2202.1" width="18.5" height="18.5"/><rect x="1403.5" y="2202.2" width="18.5" height="18.5"/><rect x="1439.8" y="2206.1" width="18.5" height="18.5"/><rect x="1474.7" y="2206.1" width="18.5" height="18.5"/><rect x="1502.2" y="2194.1" width="18.5" height="18.5"/><rect x="1524.7" y="2183.7" width="18.5" height="18.5"/><rect x="1554.7" y="2160.2" width="18.5" height="18.5"/></g>
<path d="M411.1 2178.9L413.1 2178.2M441.0 2176.9L443.8 2177.6M470.1 2173.1L475.7 2169.4M502.4 2163.3L502.8 2163.3M530.3 2158.7L532.9 2157.4M559.4 2145.3L562.0 2144.3M588.4 2132.0L591.9 2130.2M618.4 2118.0L620.8 2117.1M646.8 2104.1L653.5 2100.0M677.1 2083.0L683.8 2077.4M709.4 2065.6L710.1 2065.4M734.0 2051.9L744.9 2039.0M764.3 2017.2L773.6 2007.0M791.5 1984.1L804.9 1963.5M821.2 1939.3L834.1 1920.5M851.2 1896.8L862.1 1882.2M879.6 1858.8L892.2 1842.1M910.9 1819.8L920.0 1810.2M939.3 1788.3L951.2 1774.0M970.9 1752.5L978.5 1745.0M1003.2 1731.9L1004.1 1731.7M1031.4 1735.5L1035.0 1737.5M1055.5 1756.8L1069.9 1781.1M1082.0 1807.5L1102.5 1868.7M1113.5 1895.6L1130.5 1931.0M1143.1 1957.3L1158.8 1991.2M1172.2 2017.1L1188.1 2045.1M1202.1 2070.7L1217.1 2099.0M1231.5 2124.4L1246.4 2148.6M1263.2 2172.4L1273.7 2185.2M1297.2 2199.3L1298.6 2199.6M1326.2 2208.5L1328.0 2209.3M1355.7 2217.5L1357.4 2217.8M1386.2 2221.8L1386.3 2221.8M1414.5 2228.4L1416.6 2229.1M1444.8 2231.9L1445.0 2231.8M1473.8 2227.5L1475.6 2227.3M1504.0 2220.7L1504.4 2220.5M1532.5 2212.6L1534.3 2212.2" stroke="#990090" stroke-width="4.4" stroke-linecap="round" fill="none"/><g fill="#990090"><rect x="388.1" y="2174.6" width="18.5" height="18.5"/><rect x="417.6" y="2164.1" width="18.5" height="18.5"/><rect x="448.6" y="2171.9" width="18.5" height="18.5"/><rect x="478.6" y="2152.1" width="18.5" height="18.5"/><rect x="508.0" y="2156.1" width="18.5" height="18.5"/><rect x="536.6" y="2141.6" width="18.5" height="18.5"/><rect x="566.2" y="2129.6" width="18.5" height="18.5"/><rect x="595.5" y="2114.2" width="18.5" height="18.5"/><rect x="625.1" y="2102.4" width="18.5" height="18.5"/><rect x="656.6" y="2083.2" width="18.5" height="18.5"/><rect x="685.8" y="2058.8" width="18.5" height="18.5"/><rect x="715.2" y="2053.8" width="18.5" height="18.5"/><rect x="745.1" y="2018.7" width="18.5" height="18.5"/><rect x="774.2" y="1987.0" width="18.5" height="18.5"/><rect x="803.6" y="1942.0" width="18.5" height="18.5"/><rect x="833.1" y="1899.2" width="18.5" height="18.5"/><rect x="861.6" y="1861.2" width="18.5" height="18.5"/><rect x="891.6" y="1821.2" width="18.5" height="18.5"/><rect x="920.8" y="1790.3" width="18.5" height="18.5"/><rect x="951.2" y="1753.5" width="18.5" height="18.5"/><rect x="979.6" y="1725.5" width="18.5" height="18.5"/><rect x="1009.1" y="1719.5" width="18.5" height="18.5"/><rect x="1038.8" y="1735.0" width="18.5" height="18.5"/><rect x="1068.2" y="1784.5" width="18.5" height="18.5"/><rect x="1097.8" y="1873.2" width="18.5" height="18.5"/><rect x="1127.7" y="1934.8" width="18.5" height="18.5"/><rect x="1155.8" y="1995.2" width="18.5" height="18.5"/><rect x="1186.0" y="2048.6" width="18.5" height="18.5"/><rect x="1214.7" y="2102.7" width="18.5" height="18.5"/><rect x="1244.8" y="2151.8" width="18.5" height="18.5"/><rect x="1273.7" y="2187.2" width="18.5" height="18.5"/><rect x="1303.7" y="2193.2" width="18.5" height="18.5"/><rect x="1332.0" y="2206.2" width="18.5" height="18.5"/><rect x="1362.5" y="2210.7" width="18.5" height="18.5"/><rect x="1391.5" y="2214.4" width="18.5" height="18.5"/><rect x="1421.2" y="2224.6" width="18.5" height="18.5"/><rect x="1450.2" y="2220.7" width="18.5" height="18.5"/><rect x="1480.8" y="2215.7" width="18.5" height="18.5"/><rect x="1509.2" y="2207.1" width="18.5" height="18.5"/><rect x="1539.2" y="2199.2" width="18.5" height="18.5"/></g>
<path d="M411.5 2195.0L411.7 2195.0M440.5 2193.8L445.3 2193.8M474.3 2193.8L474.5 2193.8M503.3 2191.4L504.1 2191.2M532.6 2184.8L536.3 2183.8M563.7 2173.7L566.5 2172.4M593.1 2160.3L596.5 2158.9M622.6 2145.8L626.0 2143.9M651.4 2129.4L655.7 2126.9M679.1 2109.7L687.1 2102.3M711.1 2086.2L714.2 2084.8M738.6 2069.1L745.3 2063.5M768.3 2045.5L774.1 2041.1M796.8 2022.7L804.1 2016.1M826.2 1996.9L834.1 1990.3M855.3 1970.2L863.9 1961.1M884.7 1940.6L893.0 1933.1M914.4 1913.3L922.2 1906.1M945.1 1888.3L950.2 1885.1M975.6 1870.8L979.4 1868.9M1006.6 1858.8L1007.8 1858.5M1035.1 1861.1L1037.7 1862.3M1058.9 1880.7L1077.0 1908.2M1092.2 1933.1L1136.8 2011.6M1150.0 2037.6L1167.9 2077.0M1182.8 2101.9L1194.0 2116.5M1211.5 2139.9L1231.7 2167.7M1250.7 2189.7L1259.0 2197.8M1281.7 2215.8L1286.6 2218.9M1312.6 2231.9L1315.1 2232.8M1341.5 2245.2L1344.7 2247.1M1371.4 2258.4L1372.3 2258.6M1427.4 2259.4L1434.4 2259.3M1463.6 2258.9L1469.3 2258.7M1548.3 2241.1L1549.5 2240.9" stroke="#008000" stroke-width="4.4" stroke-linecap="round" fill="none"/><g fill="#008000"><rect x="388.1" y="2186.9" width="18.5" height="18.5"/><rect x="416.6" y="2184.6" width="18.5" height="18.5"/><rect x="450.6" y="2184.6" width="18.5" height="18.5"/><rect x="479.6" y="2184.6" width="18.5" height="18.5"/><rect x="509.2" y="2179.6" width="18.5" height="18.5"/><rect x="541.1" y="2170.6" width="18.5" height="18.5"/><rect x="570.5" y="2157.1" width="18.5" height="18.5"/><rect x="600.5" y="2143.7" width="18.5" height="18.5"/><rect x="629.5" y="2127.6" width="18.5" height="18.5"/><rect x="659.0" y="2110.2" width="18.5" height="18.5"/><rect x="688.6" y="2083.2" width="18.5" height="18.5"/><rect x="718.1" y="2069.2" width="18.5" height="18.5"/><rect x="747.2" y="2044.8" width="18.5" height="18.5"/><rect x="776.6" y="2023.2" width="18.5" height="18.5"/><rect x="805.8" y="1997.0" width="18.5" height="18.5"/><rect x="836.0" y="1971.7" width="18.5" height="18.5"/><rect x="864.6" y="1941.2" width="18.5" height="18.5"/><rect x="894.5" y="1914.0" width="18.5" height="18.5"/><rect x="923.5" y="1886.8" width="18.5" height="18.5"/><rect x="953.2" y="1868.0" width="18.5" height="18.5"/><rect x="983.2" y="1853.2" width="18.5" height="18.5"/><rect x="1012.6" y="1845.7" width="18.5" height="18.5"/><rect x="1041.7" y="1859.2" width="18.5" height="18.5"/><rect x="1075.8" y="1911.2" width="18.5" height="18.5"/><rect x="1134.8" y="2015.0" width="18.5" height="18.5"/><rect x="1164.7" y="2081.1" width="18.5" height="18.5"/><rect x="1193.7" y="2118.8" width="18.5" height="18.5"/><rect x="1231.0" y="2170.2" width="18.5" height="18.5"/><rect x="1260.2" y="2198.8" width="18.5" height="18.5"/><rect x="1289.7" y="2217.4" width="18.5" height="18.5"/><rect x="1319.5" y="2228.8" width="18.5" height="18.5"/><rect x="1348.2" y="2245.1" width="18.5" height="18.5"/><rect x="1377.0" y="2253.4" width="18.5" height="18.5"/><rect x="1403.5" y="2250.2" width="18.5" height="18.5"/><rect x="1439.8" y="2250.1" width="18.5" height="18.5"/><rect x="1474.7" y="2249.1" width="18.5" height="18.5"/><rect x="1502.2" y="2243.2" width="18.5" height="18.5"/><rect x="1524.7" y="2234.2" width="18.5" height="18.5"/><rect x="1554.7" y="2229.2" width="18.5" height="18.5"/></g>
<path d="M1215.0 1511.6H1258.5M1284.5 1511.6H1327.0" stroke="#ff0000" stroke-width="4.4" stroke-linecap="round"/><rect x="1262.2" y="1502.3" width="18.5" height="18.5" fill="#ff0000"/><text x="1341.0" y="1529.1" class="lg">PVDF</text><path d="M1215.0 1572.8H1258.5M1284.5 1572.8H1327.0" stroke="#0000ff" stroke-width="4.4" stroke-linecap="round"/><rect x="1262.2" y="1563.5" width="18.5" height="18.5" fill="#0000ff"/><text x="1341.0" y="1590.3" class="lg">PVDF ZnO 0.5</text><path d="M1215.0 1634.0H1258.5M1284.5 1634.0H1327.0" stroke="#000000" stroke-width="4.4" stroke-linecap="round"/><rect x="1262.2" y="1624.8" width="18.5" height="18.5" fill="#000000"/><text x="1341.0" y="1651.5" class="lg">PVDF ZnO 1</text><path d="M1215.0 1695.2H1258.5M1284.5 1695.2H1327.0" stroke="#ff8000" stroke-width="4.4" stroke-linecap="round"/><rect x="1262.2" y="1685.9" width="18.5" height="18.5" fill="#ff8000"/><text x="1341.0" y="1712.7" class="lg">PVDF ZnO 3</text><path d="M1215.0 1756.4H1258.5M1284.5 1756.4H1327.0" stroke="#990090" stroke-width="4.4" stroke-linecap="round"/><rect x="1262.2" y="1747.1" width="18.5" height="18.5" fill="#990090"/><text x="1341.0" y="1773.9" class="lg">PVDF ZnO 5</text><path d="M1215.0 1817.6H1258.5M1284.5 1817.6H1327.0" stroke="#008000" stroke-width="4.4" stroke-linecap="round"/><rect x="1262.2" y="1808.3" width="18.5" height="18.5" fill="#008000"/><text x="1341.0" y="1835.1" class="lg">PVDF ZnO 10</text>
<path d="M261.0 1392.0V2382.5M261.0 1392.0H1698.0M1698.0 1392.0V2382.5" stroke="#000" stroke-width="4" fill="none" stroke-linecap="square"/><path d="M261.0 2382.5H1698.0" stroke="#000" stroke-width="3.4" fill="none" stroke-linecap="square"/>
<text transform="translate(637 1502) scale(1 1.04)" class="an" style="fill:#ff0000">-44.05 °C</text>
<path d="M853.0 1476.0L965.2 1512.6" stroke="#ff0000" stroke-width="3.0"/><path d="M988.0 1520.0L961.3 1518.1L965.3 1505.8Z" fill="#ff0000"/>
<text transform="translate(585 1579) scale(1 1.04)" class="an" style="fill:#0000ff">-43.14 °C</text>
<path d="M821.0 1555.0L961.2 1572.1" stroke="#0000ff" stroke-width="3.0"/><path d="M985.0 1575.0L958.4 1578.3L960.0 1565.4Z" fill="#0000ff"/>
<text transform="translate(521 1674) scale(1 1.04)" class="an" style="fill:#000000">-42.70 °C</text>
<path d="M769.0 1645.0L975.1 1622.6" stroke="#000000" stroke-width="3.0"/><path d="M999.0 1620.0L973.9 1629.3L972.4 1616.3Z" fill="#000000"/>
<text transform="translate(458 1768) scale(1 1.04)" class="an" style="fill:#ff8000">-42.41 °C</text>
<path d="M695.0 1736.0L970.6 1672.4" stroke="#ff8000" stroke-width="3.0"/><path d="M994.0 1667.0L970.1 1679.2L967.2 1666.5Z" fill="#ff8000"/>
<text transform="translate(398 1854) scale(1 1.04)" class="an" style="fill:#990090">-41.96 °C</text>
<path d="M639.0 1824.0L954.8 1742.0" stroke="#990090" stroke-width="3.0"/><path d="M978.0 1736.0L954.5 1748.8L951.2 1736.2Z" fill="#990090"/>
<text transform="translate(333 1955) scale(1 1.04)" class="an" style="fill:#008000">-41.07 °C</text>
<path d="M567.0 1939.0L904.3 1882.9" stroke="#008000" stroke-width="3.0"/><path d="M928.0 1879.0L903.4 1889.7L901.3 1876.9Z" fill="#008000"/>
</svg></body></html>
